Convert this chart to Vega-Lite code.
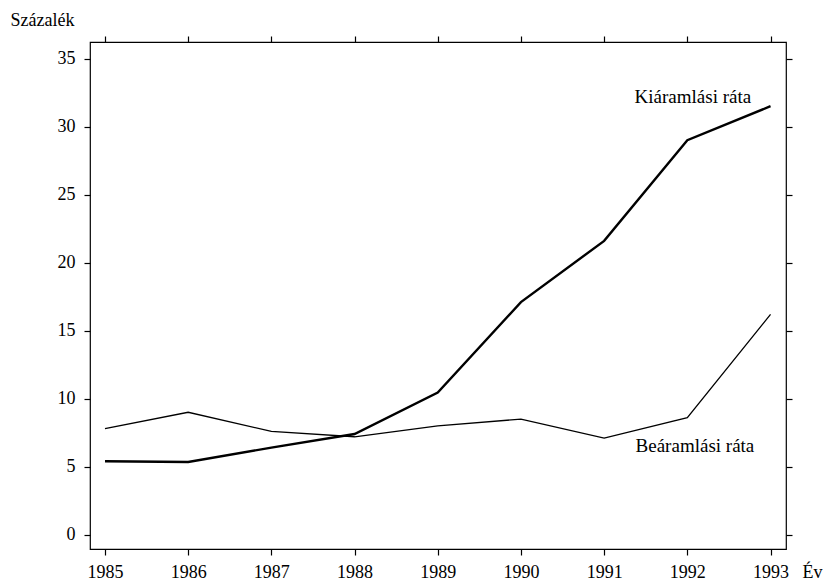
{
  "$schema": "https://vega.github.io/schema/vega-lite/v6.json",
  "width": 696,
  "height": 507,
  "autosize": "none",
  "padding": {"left": 90, "top": 42, "right": 44, "bottom": 31},
  "background": "white",
  "config": {
    "font": "Liberation Serif",
    "view": {"stroke": "black", "strokeWidth": 1.2},
    "axis": {"grid": false, "domain": false, "tickColor": "black", "tickSize": 6, "tickWidth": 1.2,
      "labelFont": "Liberation Serif", "labelFontSize": 18, "labelColor": "black",
      "titleFont": "Liberation Serif", "titleFontSize": 18, "titleFontWeight": "normal", "titleColor": "black"}
  },
  "datasets": {
    "series": [
      {"year": 1985, "rate": 5.4, "series": "Kiáramlási ráta"},
      {"year": 1986, "rate": 5.35, "series": "Kiáramlási ráta"},
      {"year": 1987, "rate": 6.4, "series": "Kiáramlási ráta"},
      {"year": 1988, "rate": 7.4, "series": "Kiáramlási ráta"},
      {"year": 1989, "rate": 10.45, "series": "Kiáramlási ráta"},
      {"year": 1990, "rate": 17.1, "series": "Kiáramlási ráta"},
      {"year": 1991, "rate": 21.6, "series": "Kiáramlási ráta"},
      {"year": 1992, "rate": 29.0, "series": "Kiáramlási ráta"},
      {"year": 1993, "rate": 31.5, "series": "Kiáramlási ráta"},
      {"year": 1985, "rate": 7.8, "series": "Beáramlási ráta"},
      {"year": 1986, "rate": 9.0, "series": "Beáramlási ráta"},
      {"year": 1987, "rate": 7.6, "series": "Beáramlási ráta"},
      {"year": 1988, "rate": 7.2, "series": "Beáramlási ráta"},
      {"year": 1989, "rate": 8.0, "series": "Beáramlási ráta"},
      {"year": 1990, "rate": 8.5, "series": "Beáramlási ráta"},
      {"year": 1991, "rate": 7.1, "series": "Beáramlási ráta"},
      {"year": 1992, "rate": 8.6, "series": "Beáramlási ráta"},
      {"year": 1993, "rate": 16.2, "series": "Beáramlási ráta"}
    ],
    "labels": [
      {"year": 1991.366, "rate": 31.71, "label": "Kiáramlási ráta"},
      {"year": 1991.378, "rate": 6.11, "label": "Beáramlási ráta"}
    ]
  },
  "layer": [
    {
      "data": {"name": "series"},
      "mark": {"type": "line", "color": "black", "strokeJoin": "miter"},
      "encoding": {
        "x": {"field": "year", "type": "quantitative",
          "scale": {"domain": [1984.82, 1993.186], "nice": false, "zero": false},
          "axis": {"orient": "bottom", "values": [1985,1986,1987,1988,1989,1990,1991,1992,1993], "format": "d",
            "labelPadding": 8, "title": "Év", "titleAngle": 0, "titleX": 712, "titleY": 28, "titleAlign": "left", "titleBaseline": "alphabetic"}},
        "y": {"field": "rate", "type": "quantitative",
          "scale": {"domain": [-1.05, 36.22], "nice": false, "zero": false},
          "axis": {"orient": "left", "values": [0,5,10,15,20,25,30,35], "labelPadding": 9,
            "title": "Százalék", "titleAngle": 0, "titleX": -80, "titleY": -17, "titleAlign": "left", "titleBaseline": "alphabetic"}},
        "detail": {"field": "series"},
        "strokeWidth": {"field": "series", "type": "nominal",
          "scale": {"domain": ["Kiáramlási ráta", "Beáramlási ráta"], "range": [2.4, 1.3]}, "legend": null}
      }
    },
    {
      "data": {"name": "series"},
      "mark": {"type": "rule", "opacity": 0},
      "encoding": {
        "x": {"field": "year", "type": "quantitative",
          "axis": {"orient": "top", "values": [1985,1986,1987,1988,1989,1990,1991,1992,1993], "labels": false, "title": null}},
        "y": {"field": "rate", "type": "quantitative",
          "axis": {"orient": "right", "values": [0,5,10,15,20,25,30,35], "labels": false, "title": null}}
      }
    },
    {
      "data": {"name": "labels"},
      "mark": {"type": "text", "align": "left", "baseline": "alphabetic", "fontSize": 19, "font": "Liberation Serif", "color": "black"},
      "encoding": {
        "x": {"field": "year", "type": "quantitative", "axis": null},
        "y": {"field": "rate", "type": "quantitative", "axis": null},
        "text": {"field": "label"}
      }
    }
  ],
  "resolve": {"axis": {"x": "independent", "y": "independent"}}
}
